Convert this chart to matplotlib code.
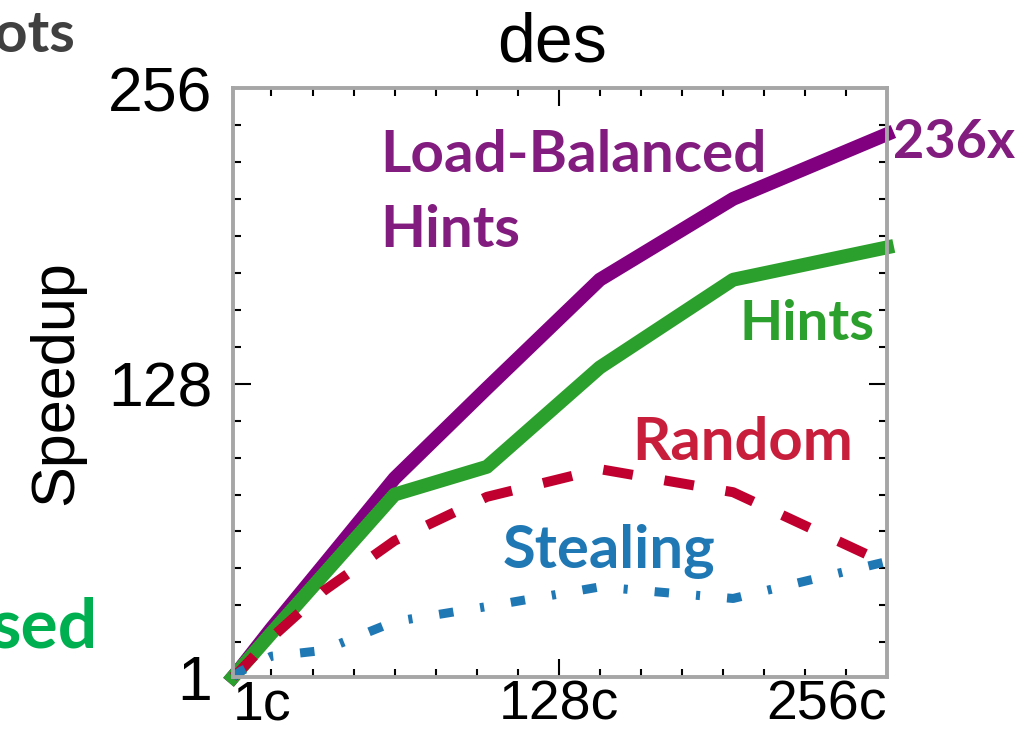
import numpy as np
import matplotlib.pyplot as plt

# speedup of des vs. core count
cores = [1, 4, 16, 36, 64, 100, 144, 196, 256]
lb_hints = [1, 5, 22, 49, 87, 126, 173, 208, 236]
hints = [1, 4.8, 20, 45, 80, 92, 135, 173, 187]
random_ = [1, 4, 18, 38, 60, 79, 91, 81, 50]
stealing = [1, 3.5, 10, 12.5, 25, 31.5, 40, 35, 51]

xticks = [1, 128, 256]
xticklabels = ["1c", "128c", "256c"]
yticks = [1, 128, 256]
yticklabels = ["1", "128", "256"]
minor = list(range(16, 256, 16))

W, H = 1032, 732
plt.rcParams['font.family'] = ['Liberation Sans', 'DejaVu Sans']

fig = plt.figure(figsize=(W / 100, H / 100), dpi=100)
ax = fig.add_axes([233 / W, 1 - 677 / H, 654 / W, 589 / H])


def px(x, y):
    return x / W, 1 - y / H


# lines
ax.plot(cores, lb_hints, color='#800080', lw=10, clip_on=False)
ax.plot(cores, hints, color='#2ca02c', lw=10, clip_on=False)
ax.plot(cores, random_, color='#c0002f', lw=7.2, dashes=(3, 3.2), clip_on=False)
ax.plot(cores, stealing, color='#1f77b4', lw=6.5, dashes=(1.6, 3.0, 0.45, 3.0), clip_on=False)

ax.set_xlim(1, 256)
ax.set_ylim(1, 256)
ax.set_xticks(xticks)
ax.set_xticklabels(xticklabels)
ax.set_yticks(yticks)
ax.set_yticklabels(yticklabels)
ax.set_xticks(minor, minor=True)
ax.set_yticks(minor, minor=True)

ax.tick_params(which='both', direction='in', top=True, right=True, color='black', width=1.5)
ax.tick_params(which='major', length=13)
ax.tick_params(which='minor', length=6)
ax.tick_params(axis='x', labelsize=40, pad=2)
ax.tick_params(axis='y', labelsize=45, pad=15)

labs = ax.get_xticklabels()
labs[0].set_ha('left')
labs[2].set_ha('right')

for s in ax.spines.values():
    s.set_color('#a6a6a6')
    s.set_linewidth(2.8)

ax.set_ylabel('Speedup', fontsize=44)
ax.yaxis.set_label_coords((85 - 233) / 654, 0.5)

fig.text(*px(552, 43), 'des', fontsize=49, ha='center', va='center')

# inline labels
lab = dict(family=['Lato', 'DejaVu Sans'], fontweight='bold', fontsize=42, ha='left', va='baseline')
fig.text(*px(380, 172), 'Load-Balanced', color='#821c7e', **lab)
fig.text(*px(380, 247), 'Hints', color='#821c7e', **lab)
fig.text(*px(893, 158), '236x', color='#821c7e', **dict(lab, fontsize=39))
fig.text(*px(740, 340), 'Hints', color='#2ca02c', **dict(lab, fontsize=40.5))
fig.text(*px(632, 460), 'Random', color='#c81e3c', **dict(lab, fontsize=43))
fig.text(*px(503, 568), 'Stealing', color='#1f77b4', **dict(lab, fontsize=43))

# pieces of the neighbouring panels
fig.text(*px(-6, 52), 'ots', color='#404040', **lab)
fig.text(*px(-10, 648), 'sed', color='#00b050', **dict(lab, fontsize=50))

fig.savefig('out.png', dpi=100)
